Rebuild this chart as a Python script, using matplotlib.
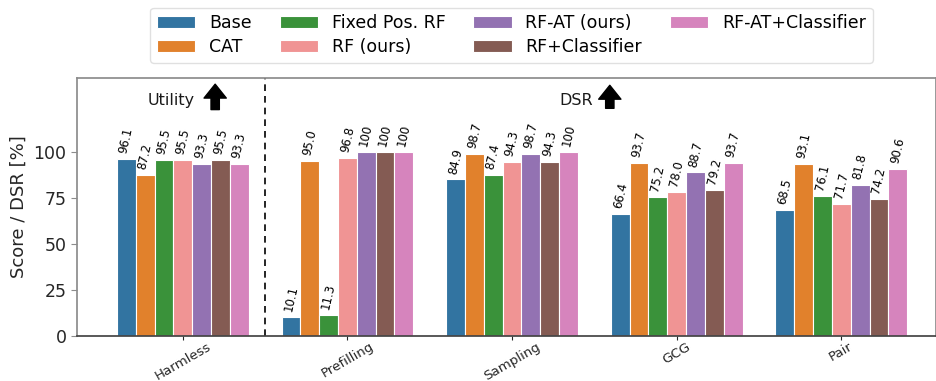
import numpy as np
import matplotlib
matplotlib.use('Agg')
import matplotlib.pyplot as plt

# data
categories = ['Harmless', 'Prefilling', 'Sampling', 'GCG', 'Pair']
methods = ['Base', 'CAT', 'Fixed Pos. RF', 'RF (ours)', 'RF-AT (ours)',
           'RF+Classifier', 'RF-AT+Classifier']
base = [96.1, 10.1, 84.9, 66.4, 68.5]
cat = [87.2, 95.0, 98.7, 93.7, 93.1]
fixed_pos_rf = [95.5, 11.3, 87.4, 75.2, 76.1]
rf = [95.5, 96.8, 94.3, 78.0, 71.7]
rf_at = [93.3, 100, 98.7, 88.7, 81.8]
rf_cls = [95.5, 100, 94.3, 79.2, 74.2]
rf_at_cls = [93.3, 100, 100, 93.7, 90.6]
labels = [['96.1', '10.1', '84.9', '66.4', '68.5'],
          ['87.2', '95.0', '98.7', '93.7', '93.1'],
          ['95.5', '11.3', '87.4', '75.2', '76.1'],
          ['95.5', '96.8', '94.3', '78.0', '71.7'],
          ['93.3', '100', '98.7', '88.7', '81.8'],
          ['95.5', '100', '94.3', '79.2', '74.2'],
          ['93.3', '100', '100', '93.7', '90.6']]

series = [base, cat, fixed_pos_rf, rf, rf_at, rf_cls, rf_at_cls]
colors = ['#3274a1', '#e1812c', '#3a923a', '#f09494', '#9372b2', '#845b53', '#d684bd']

fig = plt.figure(figsize=(9.36, 3.81), dpi=100)
ax = fig.add_axes([0.0823, 0.1185, 0.918, 0.677])

x = np.arange(len(categories))
width = 0.8 / len(methods)
for i, (vals, name, c) in enumerate(zip(series, methods, colors)):
    pos = x - 0.4 + width * (i + 0.5)
    bars = ax.bar(pos, vals, width, color=c, edgecolor='white', linewidth=0.8, label=name)
    for b, lab in zip(bars, labels[i]):
        ax.annotate(lab, (b.get_x() + b.get_width() / 2, b.get_height()),
                    xytext=(0, 3), textcoords='offset points', ha='center',
                    va='bottom', rotation=77, fontsize=8.5, color='black')

ax.axvline(0.5, color='black', linestyle=(0, (4, 3)), linewidth=1.2)

# section headers with bold up arrows
arrow_style = 'simple,head_width=0.8,head_length=0.5,tail_width=0.3'
ax.text(0.075, 128, 'Utility', ha='right', va='center', fontsize=11.5, color='#1a1a1a')
ax.annotate('', xy=(0.197, 136.6), xytext=(0.197, 122.8),
            arrowprops=dict(arrowstyle=arrow_style, color='black', mutation_scale=20,
                            shrinkA=0, shrinkB=0))
ax.text(2.493, 128, 'DSR', ha='right', va='center', fontsize=11.5, color='#1a1a1a')
ax.annotate('', xy=(2.594, 136.0), xytext=(2.594, 123.5),
            arrowprops=dict(arrowstyle=arrow_style, color='black', mutation_scale=20,
                            shrinkA=0, shrinkB=0))

ax.set_xlim(-0.642, 4.577)
ax.set_ylim(0, 140)
ax.set_yticks([0, 25, 50, 75, 100])
ax.set_xticks(x)
ax.set_xticklabels(categories, rotation=30, fontsize=9.6, color='#262626')
ax.tick_params(axis='y', labelsize=12.5, colors='#262626', color='#8c8c8c', length=4)
ax.tick_params(axis='x', color='#262626', length=3, pad=0)
ax.set_ylabel('Score / DSR [%]', fontsize=13, color='#262626')

for s in ['left', 'top', 'right']:
    ax.spines[s].set_color('#8c8c8c')
    ax.spines[s].set_linewidth(1.25)
ax.spines['bottom'].set_color('#444444')
ax.spines['bottom'].set_linewidth(1.25)

fig.legend(loc='upper center', bbox_to_anchor=(0.5465, 1.003), ncol=4,
           fontsize=12.5, frameon=True, edgecolor='#d9d9d9', handlelength=2.2,
           columnspacing=1.6, labelspacing=0.3)

fig.savefig('out.png', dpi=100)
